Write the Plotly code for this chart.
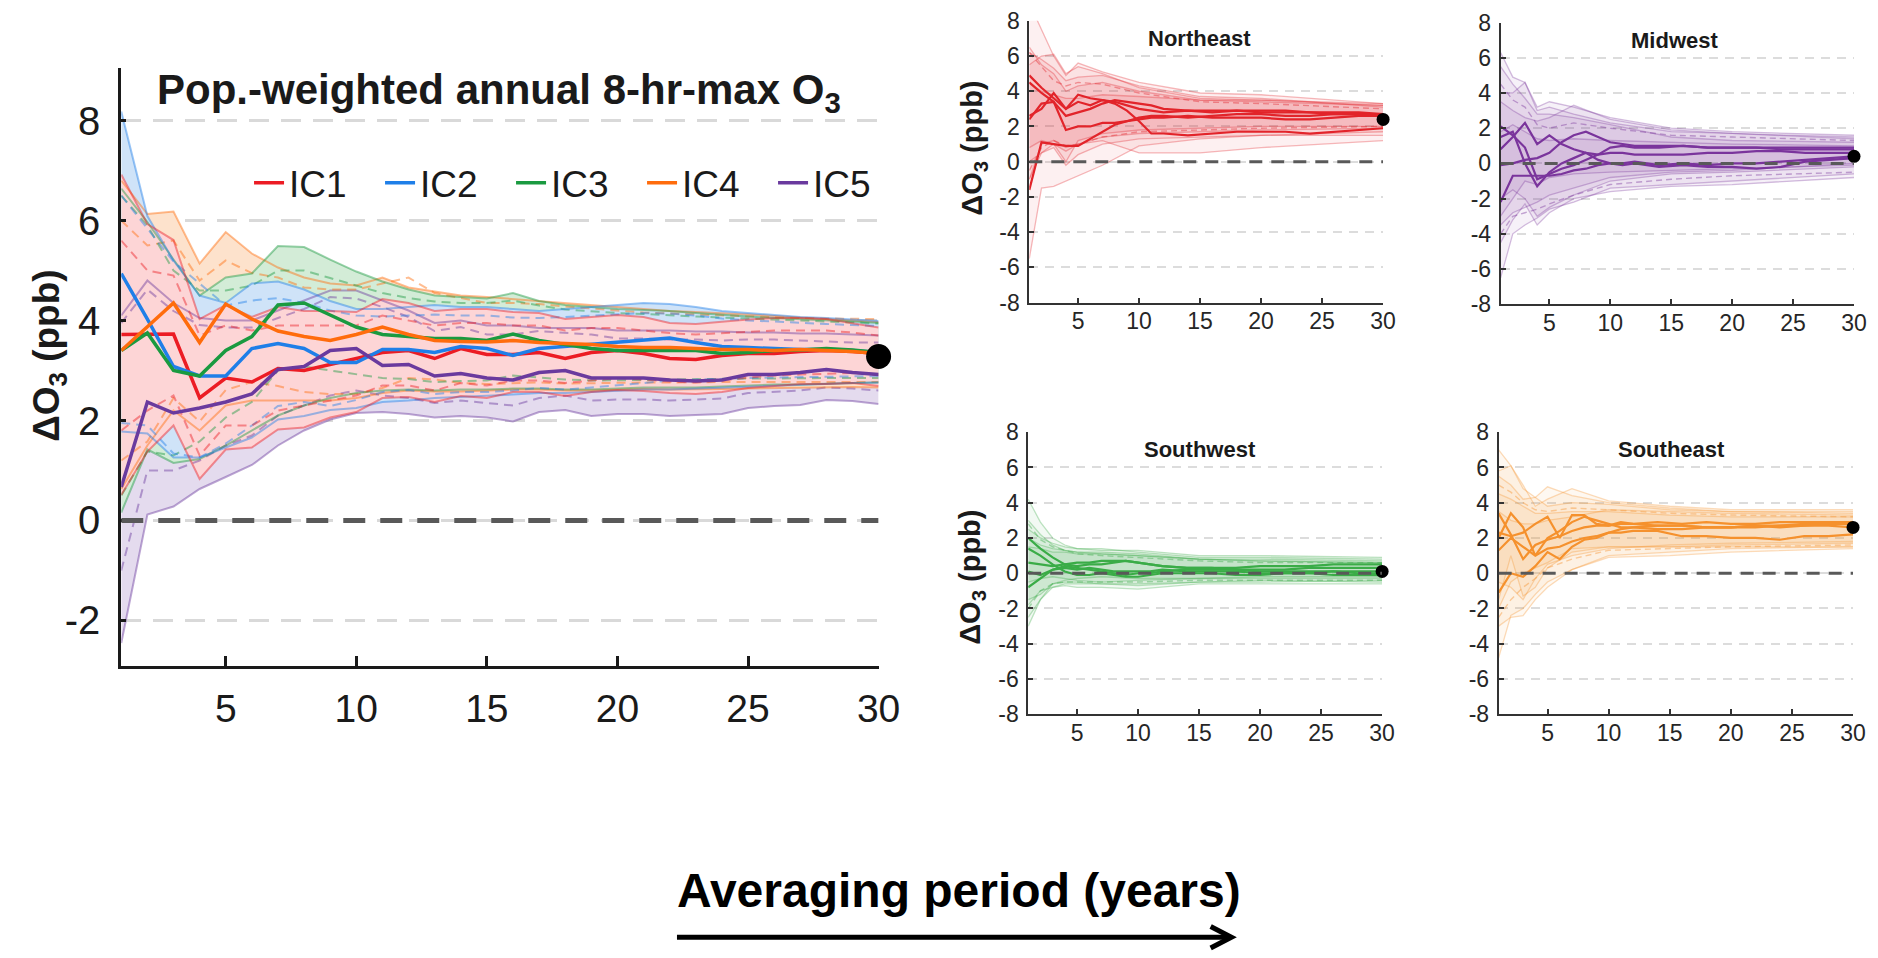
import plotly.graph_objects as go

# ---------------- data ----------------
years = list(range(1, 31))
years_r = [1, 2, 3, 4, 5, 6, 7, 8, 9, 10, 11, 12, 14, 16, 18, 20, 22, 24, 26, 28, 30]
years_b = [1, 2, 3, 4, 5, 7, 10, 15, 20, 30]
x_ticks = [5, 10, 15, 20, 25, 30]
main_y_ticks = [-2, 0, 2, 4, 6, 8]
main_y_labels = ["-2", "0", "2", "4", "6", "8"]
reg_y_ticks = [-8, -6, -4, -2, 0, 2, 4, 6, 8]
reg_y_labels = ["-8", "-6", "-4", "-2", "0", "2", "4", "6", "8"]
ic_labels = ["IC1", "IC2", "IC3", "IC4", "IC5"]
region_names = ["Northeast", "Midwest", "Southwest", "Southeast"]

# main panel: solid lines (ensemble means)
ic1_mean = [3.72, 3.72, 3.73, 2.45, 2.85, 2.77, 3.04, 3.0, 3.12, 3.24, 3.36, 3.4, 3.24, 3.44, 3.32,
            3.32, 3.36, 3.24, 3.36, 3.40, 3.34, 3.24, 3.22, 3.30, 3.34, 3.34, 3.38, 3.40, 3.38, 3.34]
ic2_mean = [4.94, 4.03, 3.08, 2.89, 2.89, 3.44, 3.54, 3.44, 3.16, 3.16, 3.42, 3.42, 3.36, 3.48, 3.44,
            3.30, 3.44, 3.48, 3.52, 3.56, 3.60, 3.65, 3.56, 3.48, 3.46, 3.44, 3.42, 3.42, 3.40, 3.36]
ic3_mean = [3.4, 3.75, 3.0, 2.89, 3.4, 3.68, 4.31, 4.35, 4.11, 3.87, 3.72, 3.68, 3.64, 3.64, 3.60,
            3.73, 3.60, 3.52, 3.44, 3.40, 3.40, 3.41, 3.40, 3.34, 3.36, 3.40, 3.41, 3.44, 3.41, 3.36]
ic4_mean = [3.4, 3.87, 4.35, 3.56, 4.33, 4.03, 3.79, 3.68, 3.60, 3.72, 3.87, 3.72, 3.60, 3.58, 3.57,
            3.60, 3.56, 3.54, 3.52, 3.48, 3.46, 3.46, 3.44, 3.42, 3.42, 3.40, 3.42, 3.40, 3.38, 3.34]
ic5_mean = [0.67, 2.37, 2.15, 2.25, 2.37, 2.53, 3.02, 3.08, 3.40, 3.44, 3.10, 3.12, 2.89, 2.94, 2.85,
            2.81, 2.96, 3.0, 2.85, 2.85, 2.85, 2.81, 2.79, 2.81, 2.92, 2.92, 2.96, 3.02, 2.96, 2.92]

# main panel: shaded ranges
ic1_hi = [6.92, 5.93, 5.61, 4.03, 4.31, 4.07, 4.27, 4.19, 4.19, 4.17, 4.43, 4.35, 4.19, 4.23, 4.23,
          4.17, 4.15, 4.03, 4.07, 4.11, 4.07, 3.95, 3.93, 3.98, 4.02, 4.05, 4.05, 4.03, 3.95, 3.86]
ic1_lo = [0.51, 1.38, 1.90, 0.83, 1.42, 1.46, 1.82, 1.86, 2.06, 2.17, 2.45, 2.47, 2.37, 2.49, 2.45,
          2.57, 2.57, 2.49, 2.57, 2.61, 2.59, 2.55, 2.53, 2.57, 2.65, 2.69, 2.73, 2.73, 2.75, 2.69]
ic2_hi = [8.18, 6.09, 5.20, 4.50, 4.35, 4.74, 4.78, 4.62, 4.39, 4.23, 4.23, 4.27, 4.31, 4.27, 4.27,
          4.23, 4.19, 4.23, 4.27, 4.31, 4.35, 4.33, 4.27, 4.19, 4.15, 4.11, 4.07, 4.05, 4.02, 3.99]
ic2_lo = [1.78, 1.74, 1.26, 1.26, 1.46, 1.66, 2.02, 2.09, 2.21, 2.25, 2.37, 2.40, 2.45, 2.47, 2.50,
          2.52, 2.55, 2.55, 2.57, 2.60, 2.62, 2.62, 2.64, 2.66, 2.68, 2.70, 2.72, 2.74, 2.75, 2.76]
ic3_hi = [6.64, 5.97, 5.22, 4.50, 4.86, 4.94, 5.49, 5.47, 5.22, 4.98, 4.78, 4.62, 4.50, 4.47, 4.44,
          4.55, 4.39, 4.31, 4.27, 4.23, 4.21, 4.19, 4.15, 4.11, 4.08, 4.05, 4.03, 4.01, 3.98, 3.95]
ic3_lo = [0.16, 1.42, 1.15, 1.23, 1.50, 1.80, 2.10, 2.30, 2.45, 2.55, 2.60, 2.62, 2.60, 2.62, 2.62,
          2.64, 2.64, 2.62, 2.62, 2.64, 2.66, 2.66, 2.66, 2.68, 2.70, 2.72, 2.72, 2.74, 2.75, 2.76]
ic4_hi = [6.80, 6.13, 6.18, 5.14, 5.77, 5.34, 5.06, 4.86, 4.74, 4.70, 4.86, 4.66, 4.58, 4.50, 4.47,
          4.43, 4.39, 4.35, 4.31, 4.27, 4.23, 4.19, 4.17, 4.15, 4.12, 4.09, 4.06, 4.03, 4.00, 3.97]
ic4_lo = [0.63, 1.50, 2.20, 1.80, 2.30, 2.40, 2.40, 2.40, 2.40, 2.45, 2.55, 2.60, 2.58, 2.58, 2.60,
          2.62, 2.62, 2.60, 2.60, 2.62, 2.63, 2.62, 2.62, 2.63, 2.64, 2.65, 2.66, 2.67, 2.67, 2.66]
ic5_hi = [4.1, 4.8, 4.35, 4.05, 4.0, 4.0, 4.2, 4.4, 4.6, 4.6, 4.4, 4.2, 3.95, 4.0, 3.9,
          3.9, 3.85, 3.85, 3.85, 3.8, 3.8, 3.8, 3.78, 3.78, 3.76, 3.76, 3.74, 3.74, 3.72, 3.7]
ic5_lo = [-2.45, 0.12, 0.28, 0.63, 0.87, 1.11, 1.50, 1.80, 2.02, 2.15, 2.17, 2.13, 2.06, 2.09, 2.06,
          1.98, 2.17, 2.21, 2.09, 2.13, 2.13, 2.09, 2.11, 2.13, 2.25, 2.29, 2.31, 2.41, 2.39, 2.33]

# main panel: dashed inner ranges
ic1_dhi = [5.6, 5.0, 4.9, 3.7, 3.9, 3.8, 3.9, 3.9, 3.9, 3.9, 4.1, 4.0, 3.9, 3.95, 3.95,
           3.9, 3.9, 3.8, 3.85, 3.85, 3.8, 3.75, 3.72, 3.75, 3.78, 3.8, 3.8, 3.8, 3.76, 3.7]
ic1_dlo = [1.8, 2.2, 2.5, 1.3, 1.9, 1.9, 2.2, 2.3, 2.4, 2.5, 2.7, 2.7, 2.6, 2.75, 2.7,
           2.8, 2.8, 2.75, 2.8, 2.85, 2.82, 2.78, 2.76, 2.8, 2.86, 2.9, 2.92, 2.94, 2.95, 2.92]
ic2_dhi = [6.5, 5.85, 5.18, 4.74, 4.30, 4.40, 4.45, 4.35, 4.20, 4.10, 4.08, 4.10, 4.12, 4.10, 4.10,
           4.06, 4.05, 4.07, 4.10, 4.12, 4.15, 4.14, 4.10, 4.04, 4.00, 3.98, 3.95, 3.93, 3.91, 3.89]
ic2_dlo = [1.95, 1.90, 1.34, 1.26, 1.54, 1.90, 2.29, 2.37, 2.29, 2.41, 2.57, 2.61, 2.53, 2.57, 2.57,
           2.60, 2.65, 2.62, 2.66, 2.70, 2.75, 2.80, 2.82, 2.84, 2.85, 2.86, 2.87, 2.88, 2.88, 2.89]
ic3_dhi = [6.5, 5.9, 5.0, 4.6, 4.6, 4.7, 5.0, 5.0, 4.85, 4.7, 4.55, 4.45, 4.38, 4.35, 4.35,
           4.40, 4.30, 4.22, 4.18, 4.15, 4.13, 4.10, 4.08, 4.06, 4.04, 4.02, 4.00, 3.98, 3.96, 3.94]
ic3_dlo = [0.5, 1.38, 1.30, 1.58, 2.06, 2.37, 3.00, 3.08, 3.00, 2.92, 2.85, 2.83, 2.77, 2.79, 2.80,
           2.90, 2.86, 2.82, 2.80, 2.80, 2.81, 2.82, 2.83, 2.83, 2.84, 2.84, 2.85, 2.85, 2.85, 2.85]
ic4_dhi = [6.0, 5.5, 5.6, 4.8, 5.2, 4.95, 4.86, 4.66, 4.62, 4.62, 4.74, 4.86, 4.55, 4.45, 4.35,
           4.35, 4.33, 4.28, 4.24, 4.19, 4.16, 4.14, 4.12, 4.10, 4.08, 4.06, 4.05, 4.04, 4.03, 4.03]
ic4_dlo = [1.2, 1.58, 2.45, 1.98, 2.61, 2.77, 2.69, 2.57, 2.53, 2.53, 2.65, 2.85, 2.82, 2.75, 2.73,
           2.75, 2.76, 2.74, 2.75, 2.76, 2.76, 2.76, 2.77, 2.77, 2.77, 2.77, 2.77, 2.77, 2.77, 2.77]
ic5_dhi = [3.95, 4.62, 4.19, 3.91, 3.86, 3.86, 4.05, 4.23, 4.47, 4.44, 4.27, 4.07, 3.79, 3.87, 3.72,
           3.72, 3.79, 3.75, 3.72, 3.64, 3.64, 3.62, 3.62, 3.60, 3.62, 3.62, 3.60, 3.58, 3.56, 3.56]
ic5_dlo = [-1.0, 1.0, 1.0, 1.2, 1.5, 1.7, 2.1, 2.3, 2.5, 2.6, 2.5, 2.45, 2.35, 2.4, 2.35,
           2.3, 2.45, 2.5, 2.4, 2.42, 2.42, 2.4, 2.42, 2.44, 2.55, 2.58, 2.6, 2.66, 2.64, 2.6]

main_final = [3.28]   # 30-yr value (black dot)

# regional panels: solid lines on years_r, ranges and dashed lines on years_b
ne_lines = [
    [4.9, 4.2, 3.6, 3.0, 3.4, 3.2, 3.5, 3.4, 3.2, 3.0, 2.9, 2.8, 2.9, 2.8, 2.9, 2.8, 2.8, 2.8, 2.7, 2.7, 2.7],
    [4.5, 3.9, 3.4, 1.8, 2.0, 2.0, 2.2, 2.2, 2.3, 2.4, 2.5, 2.5, 2.6, 2.5, 2.5, 2.5, 2.4, 2.4, 2.5, 2.6, 2.6],
    [2.4, 3.3, 3.4, 2.6, 2.8, 3.0, 3.3, 3.5, 3.4, 3.3, 3.2, 3.0, 2.9, 2.9, 2.9, 2.9, 2.9, 2.8, 2.8, 2.8, 2.7],
    [2.6, 3.0, 3.9, 3.0, 3.8, 3.6, 3.5, 3.3, 2.9, 2.3, 1.6, 1.6, 1.5, 1.6, 1.7, 1.7, 1.7, 1.6, 1.7, 1.8, 1.9],
    [-1.6, 1.1, 1.0, 0.9, 0.9, 1.3, 1.7, 2.1, 2.3, 2.5, 2.6, 2.6, 2.5, 2.6, 2.7, 2.7, 2.6, 2.6, 2.7, 2.7, 2.6]]
ne_hi = [
    [9.0, 7.5, 6.0, 4.9, 5.6, 5.1, 4.5, 3.9, 3.8, 3.3],
    [6.5, 5.5, 5.0, 4.0, 4.3, 4.5, 4.0, 3.5, 3.4, 3.2],
    [6.2, 5.8, 5.3, 4.6, 4.8, 4.9, 4.3, 3.7, 3.6, 3.1],
    [5.5, 6.0, 6.1, 5.0, 5.4, 5.0, 4.2, 3.6, 3.5, 3.2],
    [4.5, 4.0, 3.8, 3.6, 3.6, 3.8, 3.7, 3.5, 3.5, 3.3]]
ne_lo = [
    [0.8, 1.2, 1.0, 0.0, 1.2, 1.6, 1.8, 1.9, 2.0, 2.0],
    [-1.0, 0.5, 0.8, -0.2, 0.4, 1.0, 1.3, 1.4, 1.5, 1.5],
    [-1.0, 1.0, 1.2, 0.8, 1.0, 1.4, 1.6, 1.7, 1.8, 1.9],
    [0.0, 0.5, 1.0, 0.6, 1.0, 1.2, 0.5, 0.5, 0.8, 1.2],
    [-5.5, -1.5, -1.4, -1.1, -0.8, -0.2, 0.9, 1.3, 1.5, 1.7]]
ne_dash = [
    [6.2, 5.4, 4.6, 4.3, 4.5, 4.4, 3.9, 3.4, 3.3, 3.0],
    [-0.5, 0.8, 1.2, 0.9, 1.0, 1.4, 1.7, 1.8, 1.9, 2.0]]
ne_final = [2.4]

mw_lines = [
    [2.1, 1.6, 0.9, -0.9, -0.6, -0.3, -0.1, 0.2, 0.5, 0.9, 1.0, 0.9, 0.9, 1.0, 0.9, 0.9, 0.9, 0.9, 0.9, 0.9, 0.9],
    [1.5, 1.8, 0.0, -1.3, -0.5, 0.0, 0.3, 0.6, 0.2, 0.0, -0.1, 0.0, -0.2, -0.1, -0.2, -0.2, -0.3, -0.2, 0.1, 0.2, 0.3],
    [0.8, 1.5, 2.3, 1.1, 1.6, 1.1, 0.8, 0.6, 0.5, 0.6, 0.6, 0.5, 0.5, 0.5, 0.6, 0.6, 0.7, 0.7, 0.6, 0.6, 0.6],
    [-0.1, 0.0, 0.2, 0.3, 0.6, 1.2, 1.6, 1.8, 1.5, 1.2, 1.1, 1.0, 1.0, 1.0, 0.9, 0.9, 0.9, 0.8, 0.8, 0.8, 0.8],
    [-2.2, -0.7, -0.7, -0.7, -0.7, -0.6, -0.4, -0.3, -0.1, 0.0, 0.0, 0.1, -0.1, 0.0, -0.1, 0.0, 0.0, 0.1, 0.2, 0.3, 0.4]]
mw_hi = [
    [6.3, 4.9, 4.6, 3.2, 3.5, 3.2, 2.6, 2.0, 1.8, 1.6],
    [5.5, 4.5, 3.7, 2.8, 2.8, 2.6, 2.2, 1.5, 1.3, 1.2],
    [4.0, 4.0, 4.6, 3.0, 3.2, 2.8, 2.3, 1.8, 1.7, 1.4],
    [3.5, 3.0, 2.6, 2.4, 2.6, 3.3, 2.5, 1.9, 1.7, 1.5],
    [1.8, 2.2, 1.8, 1.4, 1.3, 1.4, 1.3, 1.2, 1.1, 1.0]]
mw_lo = [
    [-2.0, -1.5, -2.0, -3.0, -2.5, -1.8, -1.0, -0.6, -0.5, -0.2],
    [-4.5, -3.2, -2.3, -3.5, -2.8, -2.0, -1.6, -1.3, -1.2, -0.8],
    [-3.0, -2.0, -1.0, -1.2, -0.8, -0.6, -0.5, -0.4, -0.3, -0.1],
    [-3.5, -2.8, -2.5, -2.2, -1.8, -1.4, -0.8, -0.5, -0.4, 0.0],
    [-6.5, -4.0, -3.5, -3.1, -2.6, -2.2, -1.4, -1.2, -1.0, -0.6]]
mw_dash = [
    [4.5, 3.6, 3.2, 2.2, 2.0, 2.3, 2.0, 1.6, 1.5, 1.3],
    [-4.0, -3.0, -2.8, -2.6, -2.3, -1.8, -1.2, -0.9, -0.7, -0.5]]
mw_final = [0.4]

sw_lines = [
    [2.0, 1.4, 0.9, 0.5, 0.4, 0.5, 0.5, 0.6, 0.7, 0.6, 0.5, 0.4, 0.3, 0.3, 0.3, 0.4, 0.4, 0.4, 0.5, 0.5, 0.5],
    [1.4, 1.0, 0.5, 0.1, -0.1, -0.1, 0.0, -0.1, -0.2, -0.2, -0.1, 0.0, 0.0, 0.0, -0.1, -0.1, 0.0, 0.0, -0.1, -0.1, -0.1],
    [0.6, 0.5, 0.4, 0.5, 0.6, 0.6, 0.7, 0.7, 0.7, 0.6, 0.5, 0.4, 0.3, 0.3, 0.2, 0.2, 0.2, 0.3, 0.3, 0.3, 0.3],
    [0.1, -0.1, 0.2, 0.3, 0.2, 0.3, 0.2, 0.1, 0.1, 0.1, 0.1, 0.2, 0.1, 0.1, 0.1, 0.0, 0.0, 0.0, 0.1, 0.1, 0.1],
    [-0.8, -0.3, 0.2, 0.4, 0.3, 0.2, 0.1, 0.0, -0.1, 0.0, 0.0, 0.1, 0.2, 0.2, 0.2, 0.1, 0.1, 0.1, 0.1, 0.0, 0.0]]
sw_hi = [
    [4.2, 2.9, 2.0, 1.6, 1.4, 1.3, 1.3, 1.0, 1.0, 0.9],
    [3.0, 2.2, 1.6, 1.3, 1.2, 1.1, 1.0, 0.8, 0.7, 0.6],
    [2.5, 2.0, 1.7, 1.5, 1.4, 1.4, 1.2, 0.9, 0.9, 0.8],
    [2.0, 1.6, 1.4, 1.3, 1.2, 1.2, 1.1, 0.8, 0.8, 0.7],
    [1.5, 1.4, 1.2, 1.2, 1.1, 1.1, 1.0, 0.8, 0.7, 0.6]]
sw_lo = [
    [-0.5, -0.3, -0.2, -0.3, -0.4, -0.5, -0.4, -0.3, -0.2, -0.2],
    [-1.8, -1.0, -0.8, -0.7, -0.8, -0.8, -0.9, -0.6, -0.6, -0.6],
    [-1.5, -1.2, -0.6, -0.4, -0.3, -0.2, -0.3, -0.3, -0.3, -0.3],
    [-2.5, -1.5, -0.8, -0.6, -0.6, -0.6, -0.6, -0.5, -0.5, -0.4],
    [-3.0, -1.5, -0.6, -0.5, -0.5, -0.6, -0.7, -0.5, -0.4, -0.5]]
sw_dash = [
    [2.8, 1.9, 1.5, 1.3, 1.1, 1.0, 0.9, 0.7, 0.6, 0.6],
    [-2.0, -1.0, -0.6, -0.5, -0.5, -0.5, -0.5, -0.4, -0.4, -0.4]]
sw_final = [0.1]

se_lines = [
    [3.4, 2.2, 0.8, 1.6, 1.9, 2.1, 2.4, 2.6, 2.7, 2.7, 2.8, 2.8, 2.9, 2.8, 2.9, 2.8, 2.8, 2.9, 2.9, 2.9, 2.9],
    [2.0, 3.4, 2.6, 1.0, 2.0, 2.4, 2.9, 3.2, 3.0, 2.8, 2.6, 2.6, 2.5, 2.5, 2.6, 2.6, 2.7, 2.6, 2.7, 2.8, 2.8],
    [2.3, 2.1, 2.3, 2.8, 3.2, 2.0, 3.3, 3.3, 2.8, 2.7, 2.9, 2.8, 2.7, 2.7, 2.6, 2.6, 2.6, 2.7, 2.7, 2.7, 2.6],
    [1.3, 2.0, 1.5, 1.0, 1.4, 1.5, 1.8, 2.0, 2.1, 2.3, 2.3, 2.4, 2.4, 2.1, 2.1, 2.0, 2.0, 1.9, 2.1, 2.1, 2.2],
    [-1.1, 0.0, -0.2, 0.4, 1.2, 0.8, 1.5, 1.9, 2.0, 2.3, 2.5, 2.6, 2.7, 2.7, 2.6, 2.6, 2.7, 2.7, 2.8, 2.8, 2.8]]
se_hi = [
    [7.0, 6.1, 4.8, 4.3, 3.8, 4.0, 3.9, 3.6, 3.5, 3.4],
    [5.8, 6.1, 5.0, 3.8, 4.2, 4.8, 4.1, 3.8, 3.6, 3.6],
    [5.5, 5.0, 4.2, 4.3, 4.9, 4.4, 4.0, 3.7, 3.5, 3.5],
    [4.5, 4.2, 3.8, 3.4, 3.4, 3.5, 3.5, 3.3, 3.2, 3.2],
    [3.5, 3.0, 2.8, 2.8, 3.0, 3.2, 3.6, 3.5, 3.4, 3.3]]
se_lo = [
    [-0.5, -0.8, -1.5, -0.3, 0.5, 1.0, 1.4, 1.6, 1.7, 1.8],
    [-1.5, 1.0, -1.3, -0.8, 0.3, 1.2, 1.5, 1.5, 1.6, 1.7],
    [-2.0, -0.5, 0.0, 0.3, 0.6, 1.4, 1.5, 1.5, 1.5, 1.5],
    [-3.0, -2.5, -2.4, -1.5, -0.8, 0.2, 0.9, 1.0, 1.2, 1.4],
    [-4.8, -2.4, -2.0, -1.2, -0.5, 0.2, 1.0, 1.2, 1.4, 1.5]]
se_dash = [
    [5.0, 4.6, 4.0, 3.6, 3.5, 3.7, 3.6, 3.4, 3.3, 3.2],
    [-2.5, -1.5, -0.8, -0.3, 0.3, 0.8, 1.3, 1.4, 1.5, 1.6]]
se_final = [2.6]

# ---------------- styling ----------------
FONT = "Liberation Sans, Arial, Helvetica, sans-serif"
W, H = 1878, 958
TXT = "#1a1a1a"

ic_colors = ["#ec1c24", "#1f7fe8", "#1a9a40", "#ff6c0c", "#6a3a9e"]
ic_rgb = [(236, 28, 36), (31, 127, 232), (26, 154, 64), (255, 108, 12), (106, 58, 158)]
ic_fills = ["#fdd5d6", "#cfe3f8", "#d3ecd7", "#fde2cc", "#e4dbee"]
reg_rgb = [(226, 36, 42), (122, 52, 156), (58, 172, 71), (245, 145, 45)]


def rgba(c, a):
    return "rgba(%d,%d,%d,%.3f)" % (c[0], c[1], c[2], a)


def px_x(p):
    return p / W


def px_y(p):
    return 1 - p / H


fig = go.Figure()

# ---------- main panel ----------
means = [ic1_mean, ic2_mean, ic3_mean, ic4_mean, ic5_mean]
his = [ic1_hi, ic2_hi, ic3_hi, ic4_hi, ic5_hi]
los = [ic1_lo, ic2_lo, ic3_lo, ic4_lo, ic5_lo]
dhis = [ic1_dhi, ic2_dhi, ic3_dhi, ic4_dhi, ic5_dhi]
dlos = [ic1_dlo, ic2_dlo, ic3_dlo, ic4_dlo, ic5_dlo]

fill_order = [4, 3, 2, 1, 0]
for i in fill_order:
    fig.add_trace(go.Scatter(x=years, y=his[i], mode="lines", line=dict(width=0),
                             showlegend=False, hoverinfo="skip", xaxis="x", yaxis="y"))
    fig.add_trace(go.Scatter(x=years, y=los[i], mode="lines", line=dict(width=0),
                             fill="tonexty", fillcolor=ic_fills[i],
                             showlegend=False, hoverinfo="skip", xaxis="x", yaxis="y"))
for i in fill_order:
    for arr in (his[i], los[i]):
        fig.add_trace(go.Scatter(x=years, y=arr, mode="lines",
                                 line=dict(color=rgba(ic_rgb[i], 0.45), width=2),
                                 showlegend=False, hoverinfo="skip", xaxis="x", yaxis="y"))
    for arr in (dhis[i], dlos[i]):
        fig.add_trace(go.Scatter(x=years, y=arr, mode="lines",
                                 line=dict(color=rgba(ic_rgb[i], 0.45), width=2, dash="9px,6px"),
                                 showlegend=False, hoverinfo="skip", xaxis="x", yaxis="y"))
for i in range(5):
    fig.add_trace(go.Scatter(x=years, y=means[i], mode="lines", name=ic_labels[i],
                             line=dict(color=ic_colors[i], width=3.5),
                             showlegend=True, xaxis="x", yaxis="y"))
fig.add_trace(go.Scatter(x=[years[-1]], y=main_final, mode="markers",
                         marker=dict(color="black", size=25), cliponaxis=False,
                         showlegend=False, xaxis="x", yaxis="y"))

# ---------- regional panels ----------
reg_lines = [ne_lines, mw_lines, sw_lines, se_lines]
reg_hi = [ne_hi, mw_hi, sw_hi, se_hi]
reg_lo = [ne_lo, mw_lo, sw_lo, se_lo]
reg_dash = [ne_dash, mw_dash, sw_dash, se_dash]
reg_final = [ne_final, mw_final, sw_final, se_final]

for r in range(4):
    xa = "x%d" % (r + 2)
    ya = "y%d" % (r + 2)
    c = reg_rgb[r]
    for k in range(5):
        fig.add_trace(go.Scatter(x=years_b, y=reg_hi[r][k], mode="lines",
                                 line=dict(color=rgba(c, 0.32), width=1.3),
                                 showlegend=False, hoverinfo="skip", xaxis=xa, yaxis=ya))
        fig.add_trace(go.Scatter(x=years_b, y=reg_lo[r][k], mode="lines",
                                 line=dict(color=rgba(c, 0.32), width=1.3),
                                 fill="tonexty", fillcolor=rgba(c, 0.065),
                                 showlegend=False, hoverinfo="skip", xaxis=xa, yaxis=ya))
    for arr in reg_dash[r]:
        fig.add_trace(go.Scatter(x=years_b, y=arr, mode="lines",
                                 line=dict(color=rgba(c, 0.42), width=1.4, dash="6px,4px"),
                                 showlegend=False, hoverinfo="skip", xaxis=xa, yaxis=ya))
    for k in range(5):
        fig.add_trace(go.Scatter(x=years_r, y=reg_lines[r][k], mode="lines",
                                 line=dict(color=rgba(c, 1.0), width=2.2),
                                 showlegend=False, xaxis=xa, yaxis=ya))
    fig.add_trace(go.Scatter(x=[years_r[-1]], y=reg_final[r], mode="markers",
                             marker=dict(color="black", size=13), cliponaxis=False,
                             showlegend=False, xaxis=xa, yaxis=ya))

# ---------- axes (pixel boxes: left, right, top, bottom) ----------
main_box = (122.7, 889.0, 56.6, 671.7)
boxes = [(1041.5, 1399.5, 8.0, 297.7), (1518.4, 1876.0, 9.8, 299.4),
         (1040.4, 1398.5, 430.9, 720.8), (1516.4, 1875.0, 430.9, 720.8)]

layout = dict(
    width=W, height=H, margin=dict(l=0, r=0, t=0, b=0),
    paper_bgcolor="white", plot_bgcolor="rgba(0,0,0,0)",
    font=dict(family=FONT, color=TXT),
    showlegend=True,
    legend=dict(orientation="h", x=px_x(252), y=px_y(175), xanchor="left", yanchor="middle",
                font=dict(size=37, family=FONT, color=TXT), bgcolor="rgba(0,0,0,0)",
                entrywidthmode="pixels", entrywidth=86, itemwidth=30, traceorder="normal"),
)

layout["xaxis"] = dict(domain=[px_x(main_box[0]), px_x(main_box[1])], range=[1, 30],
                       anchor="y", tickvals=x_ticks, ticks="inside", ticklen=10, tickwidth=3,
                       tickcolor=TXT, showline=True, linewidth=3, linecolor=TXT,
                       showgrid=False, zeroline=False, tickfont=dict(size=39, color=TXT),
                       ticklabelstandoff=6)
layout["yaxis"] = dict(domain=[px_y(main_box[3]), px_y(main_box[2])], range=[-2.92, 9.05],
                       anchor="x", tickvals=main_y_ticks, ticktext=main_y_labels,
                       ticks="inside", ticklen=5, tickwidth=3,
                       tickcolor=TXT, showline=True, linewidth=3, linecolor=TXT,
                       showgrid=True, gridcolor="#d9d9d9", gridwidth=3, griddash="20px,12px",
                       zeroline=False, tickfont=dict(size=40, color=TXT), ticklabelstandoff=10)

for r, (l, rr, t, b) in enumerate(boxes):
    n = r + 2
    layout["xaxis%d" % n] = dict(domain=[px_x(l), px_x(rr)], range=[1, 30], anchor="y%d" % n,
                                 tickvals=x_ticks, ticks="inside", ticklen=5, tickwidth=1.5,
                                 tickcolor="#333333", showline=True, linewidth=1.8,
                                 linecolor="#333333", showgrid=False, zeroline=False,
                                 tickfont=dict(size=23, color="#262626"), ticklabelstandoff=-3)
    layout["yaxis%d" % n] = dict(domain=[px_y(b), px_y(t)], range=[-8, 8], anchor="x%d" % n,
                                 tickvals=reg_y_ticks, ticktext=reg_y_labels,
                                 ticks="inside", ticklen=5, tickwidth=1.5,
                                 tickcolor="#333333", showline=True, linewidth=1.8,
                                 linecolor="#333333", showgrid=True, gridcolor="#dcdcdc",
                                 gridwidth=1.5, griddash="9px,7px", zeroline=False,
                                 tickfont=dict(size=23, color="#262626"), ticklabelstandoff=3)

# zero reference lines
shapes = [dict(type="line", xref="x", yref="y", x0=1, x1=30, y0=0, y1=0, layer="above",
               line=dict(color="#595959", width=5, dash="22px,15px"))]
for r in range(4):
    n = r + 2
    shapes.append(dict(type="line", xref="x%d" % n, yref="y%d" % n, x0=1, x1=30, y0=0, y1=0,
                       layer="above", line=dict(color="#595959", width=3, dash="13px,9px")))

# bottom arrow
shapes.append(dict(type="line", xref="paper", yref="paper", x0=px_x(685), x1=px_x(1244),
                   y0=px_y(950), y1=px_y(950), line=dict(color="black", width=5)))
shapes.append(dict(type="path", xref="paper", yref="paper",
                   path="M %f,%f L %f,%f L %f,%f" % (px_x(1225), px_y(939), px_x(1246), px_y(950),
                                                     px_x(1225), px_y(961)),
                   line=dict(color="black", width=5)))
layout["shapes"] = shapes

ann = []
ann.append(dict(text="<b>Pop.-weighted annual 8-hr-max O<sub>3</sub></b>", xref="paper", yref="paper",
                x=px_x(505), y=px_y(82), xanchor="center", yanchor="middle", showarrow=False,
                font=dict(size=42, color=TXT)))
ann.append(dict(text="<b>ΔO<sub>3</sub> (ppb)</b>", xref="paper", yref="paper", textangle=-90,
                x=px_x(50), y=px_y(352), xanchor="center", yanchor="middle", showarrow=False,
                font=dict(size=37, color=TXT)))
title_pos = [(1214, 26), (1694, 28), (1214, 449), (1691, 449)]
for name, (tx, ty) in zip(region_names, title_pos):
    ann.append(dict(text="<b>%s</b>" % name, xref="paper", yref="paper", x=px_x(tx), y=px_y(ty),
                    xanchor="center", yanchor="middle", showarrow=False,
                    font=dict(size=22, color=TXT)))
for (tx, ty) in [(986, 139), (984, 580)]:
    ann.append(dict(text="<b>ΔO<sub>3</sub> (ppb)</b>", xref="paper", yref="paper", textangle=-90,
                    x=px_x(tx), y=px_y(ty), xanchor="center", yanchor="middle", showarrow=False,
                    font=dict(size=29, color=TXT)))
ann.append(dict(text="<b>Averaging period (years)</b>", xref="paper", yref="paper",
                x=px_x(970), y=px_y(902), xanchor="center", yanchor="middle", showarrow=False,
                font=dict(size=48, color="black")))
layout["annotations"] = ann

fig.update_layout(**layout)
fig.write_html("out.html")
